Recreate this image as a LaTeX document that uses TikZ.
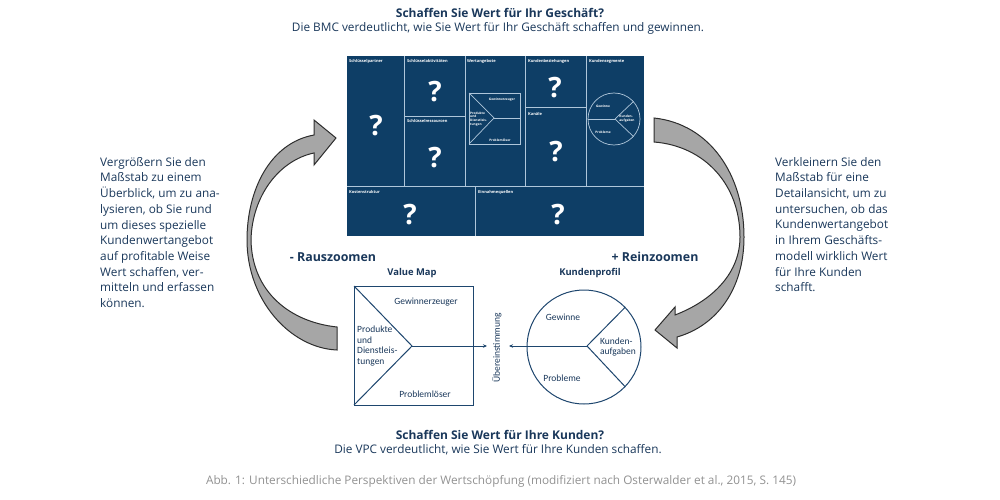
\documentclass[tikz,border=0pt]{standalone}
\usepackage{fontspec}
\setmainfont{Open Sans}
\newfontfamily\calfont{Carlito}
\usetikzlibrary{arrows.meta}
\definecolor{bmc}{RGB}{14,62,102}
\definecolor{gridc}{RGB}{175,198,218}
\definecolor{txt}{RGB}{25,55,90}
\definecolor{vpline}{RGB}{30,70,110}
\definecolor{arrgray}{RGB}{166,166,166}
\definecolor{arredge}{RGB}{45,45,45}
\definecolor{capgray}{RGB}{145,145,145}
\begin{document}
\begin{tikzpicture}[x=1pt,y=-1pt,
  cell/.style={font=\bfseries\fontsize{4}{4.5}\selectfont, text=white, inner sep=0, anchor=north west},
  qm/.style={font=\bfseries\fontsize{28}{28}\selectfont, text=white, inner sep=0},
  mini/.style={font=\bfseries\fontsize{3.2}{3.8}\selectfont, text=white, inner sep=0, align=left},
  grid/.style={draw=gridc, line width=0.9pt},
  vpl/.style={draw=vpline, line width=1pt},
  vp/.style={font=\calfont\fontsize{9.5}{10.4}\selectfont, text=txt, inner sep=0, align=left},
  body/.style={font=\fontsize{11.8}{15.7}\selectfont, text=txt, inner sep=0, align=left, anchor=north west},
  head/.style={font=\bfseries\fontsize{12}{14}\selectfont, text=txt, inner sep=0},
  sub/.style={font=\fontsize{11.8}{14}\selectfont, text=txt, inner sep=0},
  zoomlbl/.style={font=\bfseries\fontsize{12.4}{14}\selectfont, text=txt, inner sep=0},
  smallhead/.style={font=\bfseries\fontsize{9.4}{11}\selectfont, text=txt, inner sep=0},
  bigarrow/.style={fill=arrgray, draw=arredge, line width=1pt, line join=miter},
  tip/.style={-{Stealth[length=4pt,width=3.5pt]}}
]
\useasboundingbox (0,0) rectangle (1000,500);

% titles
\node[head] (t1) at (500,13) {Schaffen Sie Wert für Ihr Geschäft?};
\node[sub] (t2) at (498,28) {Die BMC verdeutlicht, wie Sie Wert für Ihr Geschäft schaffen und gewinnen.};
\node[head] (b1) at (500,435) {Schaffen Sie Wert für Ihre Kunden?};
\node[sub] (b2) at (498,450) {Die VPC verdeutlicht, wie Sie Wert für Ihre Kunden schaffen.};
\node[font=\fontsize{11.8}{13}\selectfont, text=capgray, inner sep=0] (cap) at (501,481) {Abb. 1: Unterschiedliche Perspektiven der Wertschöpfung (modifiziert nach Osterwalder et al., 2015, S. 145)};

% BMC canvas
\fill[bmc] (347,56) rectangle (644,236);
\draw[grid] (347,186) -- (644,186);
\draw[grid] (404,56) -- (404,186);
\draw[grid] (465,56) -- (465,186);
\draw[grid] (525,56) -- (525,186);
\draw[grid] (586,56) -- (586,186);
\draw[grid] (475,186) -- (475,236);
\draw[grid] (404,116) -- (465,116);
\draw[grid] (525,107) -- (586,107);
\node[cell] (c1) at (349,59) {Schlüsselpartner};
\node[cell] (c2) at (407,59) {Schlüsselaktivitäten};
\node[cell] (c3) at (467,59) {Wertangebote};
\node[cell] (c4) at (528,59) {Kundenbeziehungen};
\node[cell] (c5) at (589,59) {Kundensegmente};
\node[cell] (c6) at (407,119) {Schlüsselressourcen};
\node[cell] (c7) at (528,112) {Kanäle};
\node[cell] (c8) at (349,190) {Kostenstruktur};
\node[cell] (c9) at (478,190) {Einnahmequellen};
\node[qm] (q1) at (376,126) {?};
\node[qm] (q2) at (435,92) {?};
\node[qm] (q3) at (435,158) {?};
\node[qm] (q4) at (555,88) {?};
\node[qm] (q5) at (556,152) {?};
\node[qm] (q6) at (410,215) {?};
\node[qm] (q7) at (558,215) {?};
% mini value map
\draw[grid, line width=0.7pt] (469,93) rectangle (520,144);
\coordinate (mva) at (494,118);
\draw[grid, line width=0.7pt] (469,93) -- (mva) -- (469,144);
\draw[grid, line width=0.7pt] (mva) -- (520,118);
\node[mini] (m1) at (502,100) {Gewinnerzeuger};
\node[mini, anchor=west] (m2) at (470,119) {Produkte\\und\\Dienstleis-\\tungen};
\node[mini] (m3) at (500,140) {Problemlöser};
% mini profile
\node[circle, grid, line width=0.7pt, minimum size=52, inner sep=0] (mc) at (614,119) {};
\coordinate (mcv) at (615,119);
\draw[grid, line width=0.7pt] (mc.west) -- (mcv);
\draw[grid, line width=0.7pt] (mcv) -- (mc.42);
\draw[grid, line width=0.7pt] (mcv) -- (mc.-42);
\node[mini] (m4) at (603,106) {Gewinne};
\node[mini] (m5) at (627,119) {Kunden-\\aufgaben};
\node[mini] (m6) at (603,132) {Probleme};

% side texts
\node[body] (lt) at (100,157) {Vergrößern Sie den\\Maßstab zu einem\\Überblick, um zu ana-\\lysieren, ob Sie rund\\um dieses spezielle\\Kundenwertangebot\\auf profitable Weise\\Wert schaffen, ver-\\mitteln und erfassen\\können.};
\node[body] (rt) at (775,157) {Verkleinern Sie den\\Maßstab für eine\\Detailansicht, um zu\\untersuchen, ob das\\Kundenwertangebot\\in Ihrem Geschäfts-\\modell wirklich Wert\\für Ihre Kunden\\schafft.};

\node[zoomlbl] (rz) at (333,257) {- Rauszoomen};
\node[zoomlbl] (iz) at (655,257) {+ Reinzoomen};

% big arrows
\filldraw[bigarrow] (337,327) .. controls (290,322) and (252,292) .. (251,240)
  .. controls (252,195) and (280,160) .. (314,153) -- (314,165) -- (336,138) -- (314,120) -- (314,135)
  .. controls (270,143) and (247,190) .. (247,240)
  .. controls (247,300) and (290,348) .. (337,350) -- cycle;
\filldraw[bigarrow] (654,118) .. controls (710,124) and (744,175) .. (744,237)
  .. controls (744,290) and (716,326) .. (677,337) -- (677,348) -- (655,330) -- (675,307) -- (675,315)
  .. controls (714,300) and (740,272) .. (740,237)
  .. controls (740,185) and (705,146) .. (654,142) -- cycle;

% value map
\node[smallhead] (vmt) at (412,273) {Value Map};
\node[smallhead] (cpt) at (590,273) {Kundenprofil};
\draw[vpl] (354,286) rectangle (473,405);
\coordinate (vma) at (412,346);
\draw[vpl] (354,286) -- (vma) -- (354,405);
\coordinate (vmtip) at (487,346);
\draw[vpl, tip] (vma) -- (vmtip);
\node[vp] (g1) at (426,302) {Gewinnerzeuger};
\node[vp, anchor=west] (g2) at (357,346) {Produkte\\und\\Dienstleis-\\tungen};
\node[vp] (g3) at (425,394) {Problemlöser};
\node[vp, rotate=90] (ue) at (497,348) {Übereinstimmung};
% customer profile
\node[circle, vpl, minimum size=114, inner sep=0] (cp) at (584,347) {};
\coordinate (cpv) at (587,346);
\coordinate (cptip) at (509,346);
\draw[vpl] (cpv) -- (cp.44);
\draw[vpl] (cpv) -- (cp.-44);
\draw[vpl, tip] (cpv) -- (cptip);
\node[vp] (k1) at (563,317) {Gewinne};
\node[vp] (k2) at (618,347) {Kunden-\\aufgaben};
\node[vp] (k3) at (562,378) {Probleme};
\end{tikzpicture}
\end{document}
